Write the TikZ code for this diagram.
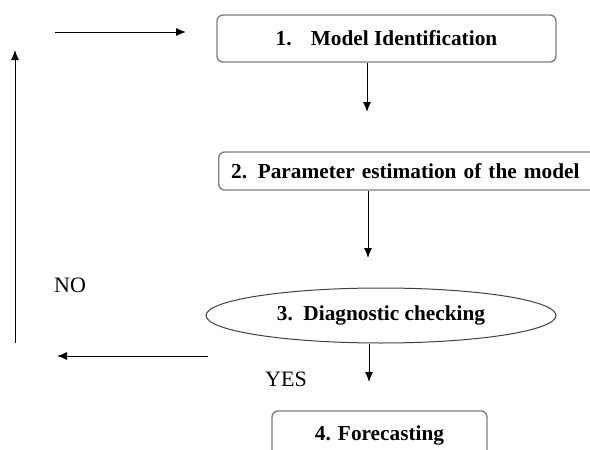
\documentclass[tikz,border=0pt]{standalone}
\usepackage{fontspec}
\setmainfont{Liberation Serif}
\usetikzlibrary{shapes.geometric,arrows.meta}
\begin{document}
\begin{tikzpicture}[x=1pt,y=-1pt,
  box/.style={draw=black!50,line width=1.4pt,rounded corners=6pt,font=\fontsize{21.3}{24}\selectfont\bfseries,inner sep=0pt},
  ell/.style={draw=black!75,line width=1pt,ellipse,font=\fontsize{21.3}{24}\selectfont\bfseries,inner sep=0pt},
  lbl/.style={font=\fontsize{22}{25}\selectfont,inner sep=0pt,anchor=base west},
  arr/.style={draw=black,line width=1pt,-{Latex[length=10pt,width=8pt]}}]
\useasboundingbox (0,0) rectangle (590,450);
\clip (0,0) rectangle (590,450);
\node[box,minimum width=339pt,minimum height=47pt] (b1) at (386.5,38.5) {1.\hspace{0.9em}Model Identification};
\node[box,minimum width=382pt,minimum height=38pt,anchor=west,text width=357pt,align=left] (b2) at (218,171) {2. Parameter estimation of the model};
\node[ell,minimum width=350pt,minimum height=55pt] (e3) at (381,315.5) {3.\, Diagnostic checking};
\node[box,minimum width=215pt,minimum height=48pt] (b4) at (379.5,435) {4. Forecasting};
\node[lbl] (no) at (54,292) {NO};
\node[lbl] (yes) at (265,386) {YES};
\coordinate (t1) at (55,32);
\coordinate (t2) at (186,32);
\coordinate (v1) at (15,343);
\coordinate (v2) at (15,50);
\coordinate (h1) at (208,356);
\coordinate (h2) at (57,356);
\coordinate (d1) at (367,112);
\coordinate (d2) at (368,258);
\coordinate (d3) at (369,382);
\draw[arr] (t1) -- (t2);
\draw[arr] (v1) -- (v2);
\draw[arr] (h1) -- (h2);
\draw[arr] (b1.south -| d1) -- (d1);
\draw[arr] (b2.south -| d2) -- (d2);
\draw[arr] (e3.south -| d3) -- (d3);
\end{tikzpicture}
\end{document}
